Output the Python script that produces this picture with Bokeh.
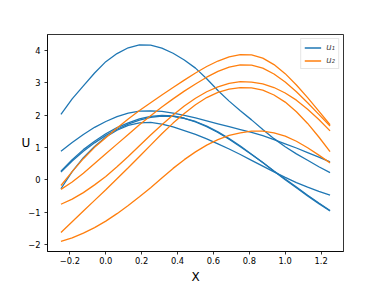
from bokeh.plotting import figure
from bokeh.models import Range1d, Legend, LegendItem, FixedTicker
from bokeh.embed import file_html
from bokeh.resources import INLINE

# sample positions along X
x_pts = [-0.25, -0.1875, -0.125, -0.0625, 0.0, 0.0625, 0.125, 0.1875, 0.25, 0.3125, 0.375, 0.4375,
         0.5, 0.5625, 0.625, 0.6875, 0.75, 0.8125, 0.875, 0.9375, 1.0, 1.0625, 1.125, 1.1875, 1.25]

# u1 curves (blue)
u1_a = [2.02, 2.50, 2.90, 3.30, 3.65, 3.90, 4.08, 4.17, 4.16, 4.07, 3.91, 3.70,
        3.45, 3.12, 2.76, 2.43, 2.13, 1.85, 1.55, 1.27, 1.02, 0.80, 0.60, 0.40, 0.22]
u1_b = [0.88, 1.15, 1.40, 1.62, 1.80, 1.95, 2.06, 2.12, 2.13, 2.11, 2.06, 1.99,
        1.91, 1.82, 1.73, 1.64, 1.55, 1.46, 1.36, 1.24, 1.11, 0.98, 0.84, 0.70, 0.55]
u1_c = [0.26, 0.62, 0.93, 1.19, 1.42, 1.61, 1.76, 1.88, 1.96, 1.99, 1.97, 1.90,
        1.79, 1.64, 1.46, 1.25, 1.02, 0.78, 0.53, 0.27, 0.02, -0.23, -0.48, -0.72, -0.95]
u1_d = [0.24, 0.58, 0.88, 1.14, 1.37, 1.56, 1.72, 1.84, 1.93, 1.97, 1.96, 1.90,
        1.80, 1.66, 1.48, 1.27, 1.04, 0.79, 0.53, 0.26, 0.00, -0.25, -0.50, -0.74, -0.97]
u1_e = [-0.28, 0.25, 0.68, 1.03, 1.32, 1.53, 1.68, 1.76, 1.77, 1.72, 1.63, 1.52,
        1.40, 1.26, 1.11, 0.95, 0.78, 0.60, 0.42, 0.24, 0.07, -0.09, -0.23, -0.36, -0.48]

# u2 curves (orange)
u2_a = [-0.18, 0.25, 0.65, 1.00, 1.30, 1.60, 1.88, 2.14, 2.38, 2.62, 2.85, 3.08,
        3.30, 3.50, 3.67, 3.80, 3.87, 3.86, 3.76, 3.56, 3.28, 2.93, 2.54, 2.12, 1.70]
u2_b = [-0.30, -0.07, 0.20, 0.50, 0.80, 1.10, 1.40, 1.70, 1.98, 2.25, 2.50, 2.74,
        2.96, 3.17, 3.35, 3.48, 3.55, 3.54, 3.45, 3.27, 3.02, 2.72, 2.38, 2.02, 1.66]
u2_c = [-0.76, -0.60, -0.40, -0.16, 0.10, 0.40, 0.72, 1.05, 1.38, 1.70, 2.00, 2.28,
        2.52, 2.72, 2.87, 2.98, 3.03, 3.02, 2.96, 2.85, 2.68, 2.46, 2.18, 1.86, 1.51]
u2_d = [-1.63, -1.30, -0.97, -0.64, -0.31, 0.03, 0.37, 0.72, 1.07, 1.42, 1.75, 2.05,
        2.32, 2.54, 2.70, 2.80, 2.85, 2.84, 2.77, 2.62, 2.40, 2.10, 1.74, 1.32, 0.87]
u2_e = [-1.91, -1.80, -1.65, -1.48, -1.28, -1.05, -0.80, -0.53, -0.25, 0.05, 0.35, 0.62,
        0.86, 1.07, 1.24, 1.37, 1.45, 1.50, 1.50, 1.45, 1.35, 1.19, 0.99, 0.76, 0.52]

u1_series = [u1_a, u1_b, u1_c, u1_d, u1_e]
u2_series = [u2_a, u2_b, u2_c, u2_d, u2_e]

x_ticks = [-0.2, 0.0, 0.2, 0.4, 0.6, 0.8, 1.0, 1.2]
x_tick_labels = ["\u22120.2", "0.0", "0.2", "0.4", "0.6", "0.8", "1.0", "1.2"]
y_ticks = [-2, -1, 0, 1, 2, 3, 4]
y_tick_labels = ["\u22122", "\u22121", "0", "1", "2", "3", "4"]

legend_labels = ["u\u2081", "u\u2082"]
x_label = "X"
y_label = "U"

BLUE = "#1f77b4"
ORANGE = "#ff7f0e"

p = figure(width=381, height=286, output_backend="svg", toolbar_location=None,
           x_range=Range1d(-0.325, 1.325), y_range=Range1d(-2.22, 4.49),
           min_border_left=47, min_border_right=38, min_border_top=34, min_border_bottom=32)

p.background_fill_color = "white"
p.border_fill_color = "white"
p.grid.visible = False
p.outline_line_color = "black"
p.outline_line_width = 0.8

for ax in (p.xaxis, p.yaxis):
    ax.axis_line_color = "black"
    ax.axis_line_width = 0.8
    ax.major_tick_line_color = "black"
    ax.major_tick_line_width = 0.8
    ax.major_tick_out = 3
    ax.major_tick_in = 0
    ax.minor_tick_line_color = None
    ax.major_label_text_font = "DejaVu Sans"
    ax.major_label_text_font_size = "8.3px"
    ax.major_label_text_color = "black"
    ax.axis_label_text_font = "DejaVu Sans"
    ax.axis_label_text_font_size = "12px"
    ax.axis_label_text_font_style = "normal"
    ax.axis_label_text_color = "black"

p.xaxis.major_label_standoff = 2
p.yaxis.major_label_standoff = 4
p.xaxis.ticker = FixedTicker(ticks=x_ticks)
p.xaxis.major_label_overrides = {t: l for t, l in zip(x_ticks, x_tick_labels)}
p.yaxis.ticker = FixedTicker(ticks=y_ticks)
p.yaxis.major_label_overrides = {t: l for t, l in zip(y_ticks, y_tick_labels)}
p.xaxis.axis_label = x_label
p.yaxis.axis_label = y_label
p.yaxis.axis_label_orientation = "horizontal"
p.xaxis.axis_label_standoff = 3
p.yaxis.axis_label_standoff = -5

r1 = None
r2 = None
for s in u1_series:
    r = p.line(x_pts, s, line_color=BLUE, line_width=1.3)
    if r1 is None:
        r1 = r
for s in u2_series:
    r = p.line(x_pts, s, line_color=ORANGE, line_width=1.3)
    if r2 is None:
        r2 = r

legend = Legend(items=[LegendItem(label=legend_labels[0], renderers=[r1]),
                       LegendItem(label=legend_labels[1], renderers=[r2])],
                location="top_right")
legend.label_text_font = "DejaVu Sans"
legend.label_text_font_style = "italic"
legend.label_text_font_size = "8.5px"
legend.label_height = 9
legend.label_width = 8
legend.glyph_width = 17
legend.glyph_height = 9
legend.label_standoff = 5
legend.spacing = 3
legend.padding = 3
legend.margin = 4
legend.border_line_color = "#cccccc"
legend.border_line_width = 0.8
legend.background_fill_alpha = 0.8
p.add_layout(legend)

open("out.html", "w").write(file_html(p, INLINE))
